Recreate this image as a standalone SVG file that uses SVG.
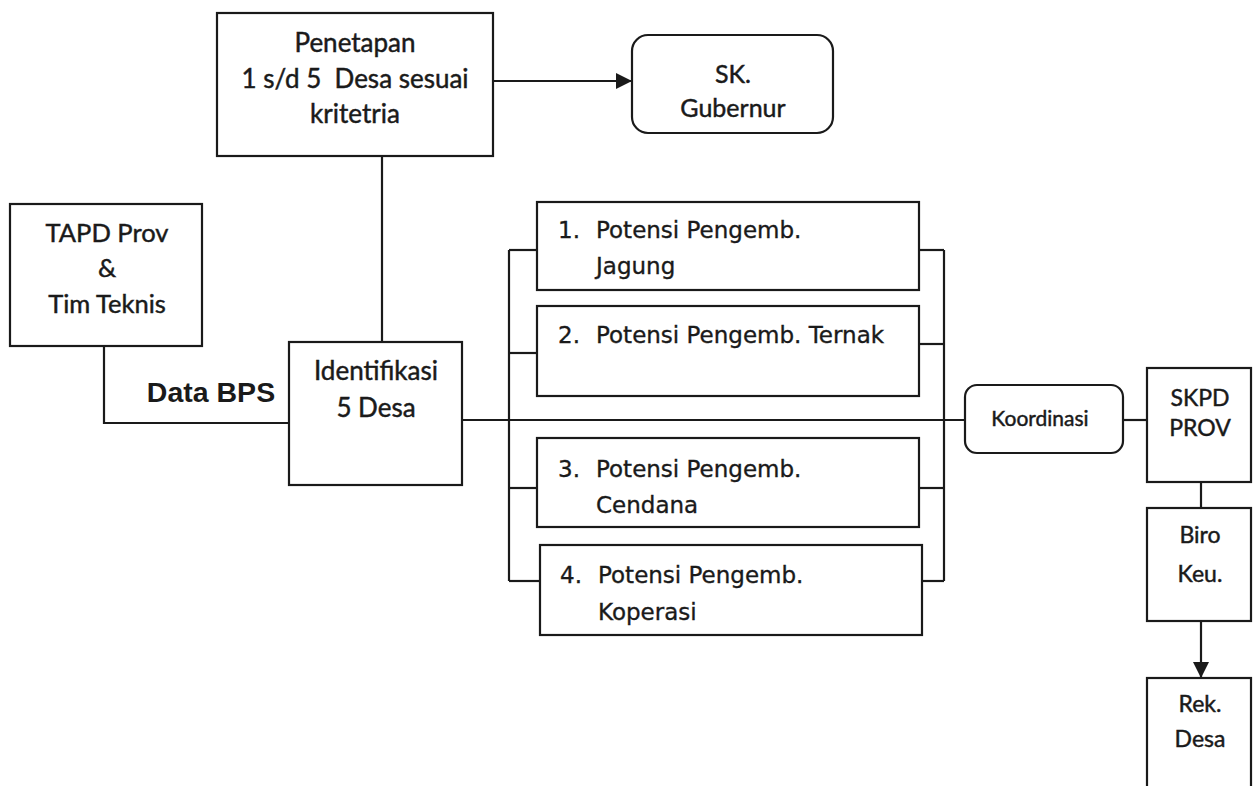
<svg xmlns="http://www.w3.org/2000/svg" width="1253" height="786" viewBox="0 0 1253 786">
<style>
.box{fill:#fff;stroke:#1a1a1a;stroke-width:2.2}
.ln{fill:none;stroke:#1a1a1a;stroke-width:2.2}
.t{font-family:Lato,"Liberation Sans",sans-serif;fill:#1a1a1a;stroke:#1a1a1a;stroke-width:0.45;text-anchor:middle}
.p{font-family:"DejaVu Sans",Verdana,sans-serif;fill:#1a1a1a;stroke:#1a1a1a;stroke-width:0.35;font-size:23px}
</style>
<defs>
<marker id="ah" markerWidth="16" markerHeight="16" refX="15" refY="8" orient="auto" markerUnits="userSpaceOnUse">
<path d="M0,0 L16,8 L0,16 Z" fill="#1a1a1a"/>
</marker>
</defs>
<rect width="1253" height="786" fill="#fff"/>
<g id="connectors">
<line class="ln" x1="493" y1="81" x2="631" y2="81" marker-end="url(#ah)"/>
<line class="ln" x1="382" y1="156" x2="382" y2="342"/>
<polyline class="ln" points="104,346 104,423 289,423"/>
<line class="ln" x1="462" y1="420" x2="965" y2="420"/>
<line class="ln" x1="509" y1="250" x2="509" y2="581"/>
<line class="ln" x1="509" y1="250" x2="537" y2="250"/>
<line class="ln" x1="509" y1="353" x2="537" y2="353"/>
<line class="ln" x1="509" y1="488" x2="537" y2="488"/>
<line class="ln" x1="509" y1="581" x2="540" y2="581"/>
<line class="ln" x1="944" y1="250" x2="944" y2="581"/>
<line class="ln" x1="919" y1="250" x2="944" y2="250"/>
<line class="ln" x1="919" y1="344" x2="944" y2="344"/>
<line class="ln" x1="919" y1="488" x2="944" y2="488"/>
<line class="ln" x1="922" y1="581" x2="944" y2="581"/>
<line class="ln" x1="1123" y1="420" x2="1147" y2="420"/>
<line class="ln" x1="1201" y1="482" x2="1201" y2="508"/>
<line class="ln" x1="1201" y1="621" x2="1201" y2="677" marker-end="url(#ah)"/>
</g>
<g id="penetapan">
<rect class="box" x="217" y="13" width="276" height="143"/>
<text class="t" font-size="26" x="355" y="52">Penetapan</text>
<text class="t" font-size="26" x="355" y="88" xml:space="preserve">1 s/d 5  Desa sesuai</text>
<text class="t" font-size="26" x="355" y="123">kritetria</text>
</g>
<g id="sk-gubernur">
<rect class="box" x="632" y="35" width="201" height="98" rx="16"/>
<text class="t" font-size="25" x="733" y="83">SK.</text>
<text class="t" font-size="25" x="733" y="117">Gubernur</text>
</g>
<g id="tapd">
<rect class="box" x="10" y="204" width="192" height="142"/>
<text class="t" font-size="25.5" x="107" y="242">TAPD Prov</text>
<text class="t" font-size="25.5" x="107" y="277">&amp;</text>
<text class="t" font-size="25.5" x="107" y="313">Tim Teknis</text>
</g>
<text id="data-bps" x="211" y="402" text-anchor="middle" font-family="'Liberation Sans',Arial,sans-serif" font-weight="bold" font-size="28.5" fill="#1a1a1a">Data BPS</text>
<g id="identifikasi">
<rect class="box" x="289" y="342" width="173" height="143"/>
<text class="t" font-size="26" x="376" y="380">Identifikasi</text>
<text class="t" font-size="26" x="376" y="417">5 Desa</text>
</g>
<g id="potensi1">
<rect class="box" x="537" y="202" width="382" height="88"/>
<text class="p" x="558" y="238">1.</text>
<text class="p" x="596" y="238">Potensi Pengemb.</text>
<text class="p" x="596" y="274">Jagung</text>
</g>
<g id="potensi2">
<rect class="box" x="537" y="306" width="382" height="90"/>
<text class="p" x="558" y="343">2.</text>
<text class="p" x="596" y="343">Potensi Pengemb. Ternak</text>
</g>
<g id="potensi3">
<rect class="box" x="537" y="438" width="382" height="89"/>
<text class="p" x="558" y="477">3.</text>
<text class="p" x="596" y="477">Potensi Pengemb.</text>
<text class="p" x="596" y="513">Cendana</text>
</g>
<g id="potensi4">
<rect class="box" x="540" y="545" width="382" height="90"/>
<text class="p" x="560" y="583">4.</text>
<text class="p" x="598" y="583">Potensi Pengemb.</text>
<text class="p" x="598" y="620">Koperasi</text>
</g>
<g id="koordinasi">
<rect class="box" x="965" y="385" width="158" height="68" rx="12"/>
<text class="t" font-size="21" x="1040" y="426">Koordinasi</text>
</g>
<g id="skpd">
<rect class="box" x="1147" y="368" width="104" height="114"/>
<text class="t" font-size="23" x="1200" y="406">SKPD</text>
<text class="t" font-size="23" x="1200" y="436">PROV</text>
</g>
<g id="biro">
<rect class="box" x="1147" y="508" width="104" height="113"/>
<text class="t" font-size="23" x="1200" y="543">Biro</text>
<text class="t" font-size="23" x="1200" y="582">Keu.</text>
</g>
<g id="rek-desa">
<rect class="box" x="1147" y="678" width="104" height="130"/>
<text class="t" font-size="23" x="1200" y="712">Rek.</text>
<text class="t" font-size="23" x="1200" y="747">Desa</text>
</g>
</svg>
